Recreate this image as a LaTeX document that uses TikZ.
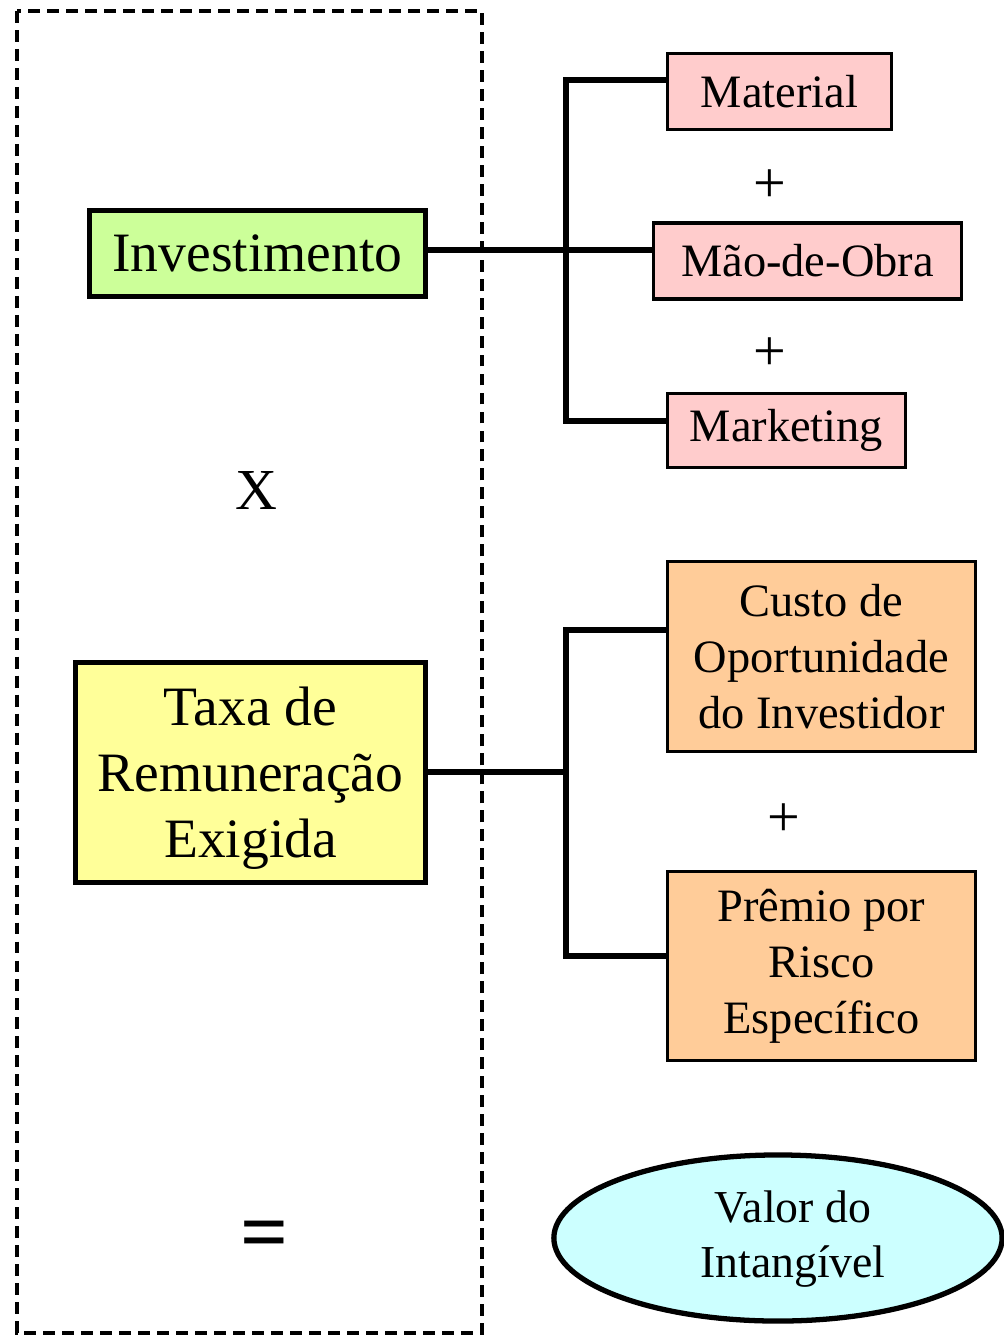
\documentclass[tikz,border=0pt]{standalone}
\usepackage{fontspec}
\setmainfont{Liberation Serif}
\usepackage{tikz}
\usetikzlibrary{calc}
\usetikzlibrary{shapes.geometric}
\definecolor{invgreen}{HTML}{CCFF99}
\definecolor{taxyellow}{HTML}{FFFF99}
\definecolor{costpink}{HTML}{FFCCCC}
\definecolor{riskorange}{HTML}{FFCC99}
\definecolor{valcyan}{HTML}{CCFFFF}
\tikzset{box/.style={draw=black, rectangle, inner sep=2pt, align=center}}

\begin{document}
\begin{tikzpicture}[x=0.01cm, y=-0.01cm]
\tikzset{bigbox/.style={box, line width=1.45pt, font=\fontsize{15.8}{18.8}\selectfont}}
\tikzset{smallbox/.style={box, line width=0.95pt, minimum height=0.76cm, font=\fontsize{13.2}{15.9}\selectfont}}
\tikzset{link/.style={line width=1.6pt}}
\tikzset{op/.style={font=\fontsize{16.5}{18}\selectfont}}

\pgfmathsetmacro{\bus}{566}

\useasboundingbox (0,0) rectangle (1004,1335);
\draw[line width=1.05pt, dash pattern=on 3.4pt off 2pt] (17,11) rectangle (482,1333);

% left column
\node[bigbox, fill=invgreen, minimum width=3.36cm, minimum height=0.86cm] (inv) at (257.5,253.5) {Investimento};
\node[op] (times) at (256,490) {X};
\node[bigbox, fill=taxyellow, minimum width=3.5cm, minimum height=2.2cm] (taxa) at (250.5,772.5) {\rule{0pt}{14pt}Taxa de\\Remuneração\\Exigida};
\node[font=\fontsize{24}{24}\selectfont\bfseries] (eq) at (265,1241) {=};

% right column
\node[smallbox, fill=costpink, minimum width=2.24cm] (mat) at (779.5,91.5) {Material};
\node[op] (plus1) at (770,186) {+};
\node[smallbox, fill=costpink, minimum width=3.08cm] (mao) at (807.5,261) {Mão-de-Obra};
\node[op] (plus2) at (770,354) {+};
\node[smallbox, fill=costpink, minimum width=2.38cm, minimum height=0.74cm] (mrk) at (786.5,430.5) {Marketing};

\node[smallbox, fill=riskorange, minimum width=3.08cm, minimum height=1.9cm] (cus) at (821.5,656.5) {Custo de\\Oportunidade\\do Investidor};
\node[op] (plus3) at (784,820) {+};
\node[smallbox, fill=riskorange, minimum width=3.08cm, minimum height=1.89cm] (pre) at (821.5,966) {Prêmio por\\Risco\\Específico};

\node[ellipse, draw=black, line width=1.5pt, fill=valcyan, inner sep=0pt, minimum width=4.48cm, minimum height=1.66cm] (val) at (778,1238) {};
\node[align=center, font=\fontsize{13}{15.6}\selectfont] (valtxt) at (793,1239) {Valor do\\Intangível};

% brackets
\coordinate (j1) at (\bus,80);
\coordinate (j2) at (\bus,250);
\coordinate (j3) at (\bus,421);
\coordinate (k1) at (\bus,630);
\coordinate (k2) at (\bus,772);
\coordinate (k3) at (\bus,956);

\draw[link] (inv.east |- j2) -- (mao.west |- j2);
\draw[link] (mat.west |- j1) -- (j1) -- (j3) -- (mrk.west |- j3);
\draw[link] (taxa.east |- k2) -- (k2);
\draw[link] (cus.west |- k1) -- (k1) -- (k3) -- (pre.west |- k3);
\end{tikzpicture}
\end{document}
